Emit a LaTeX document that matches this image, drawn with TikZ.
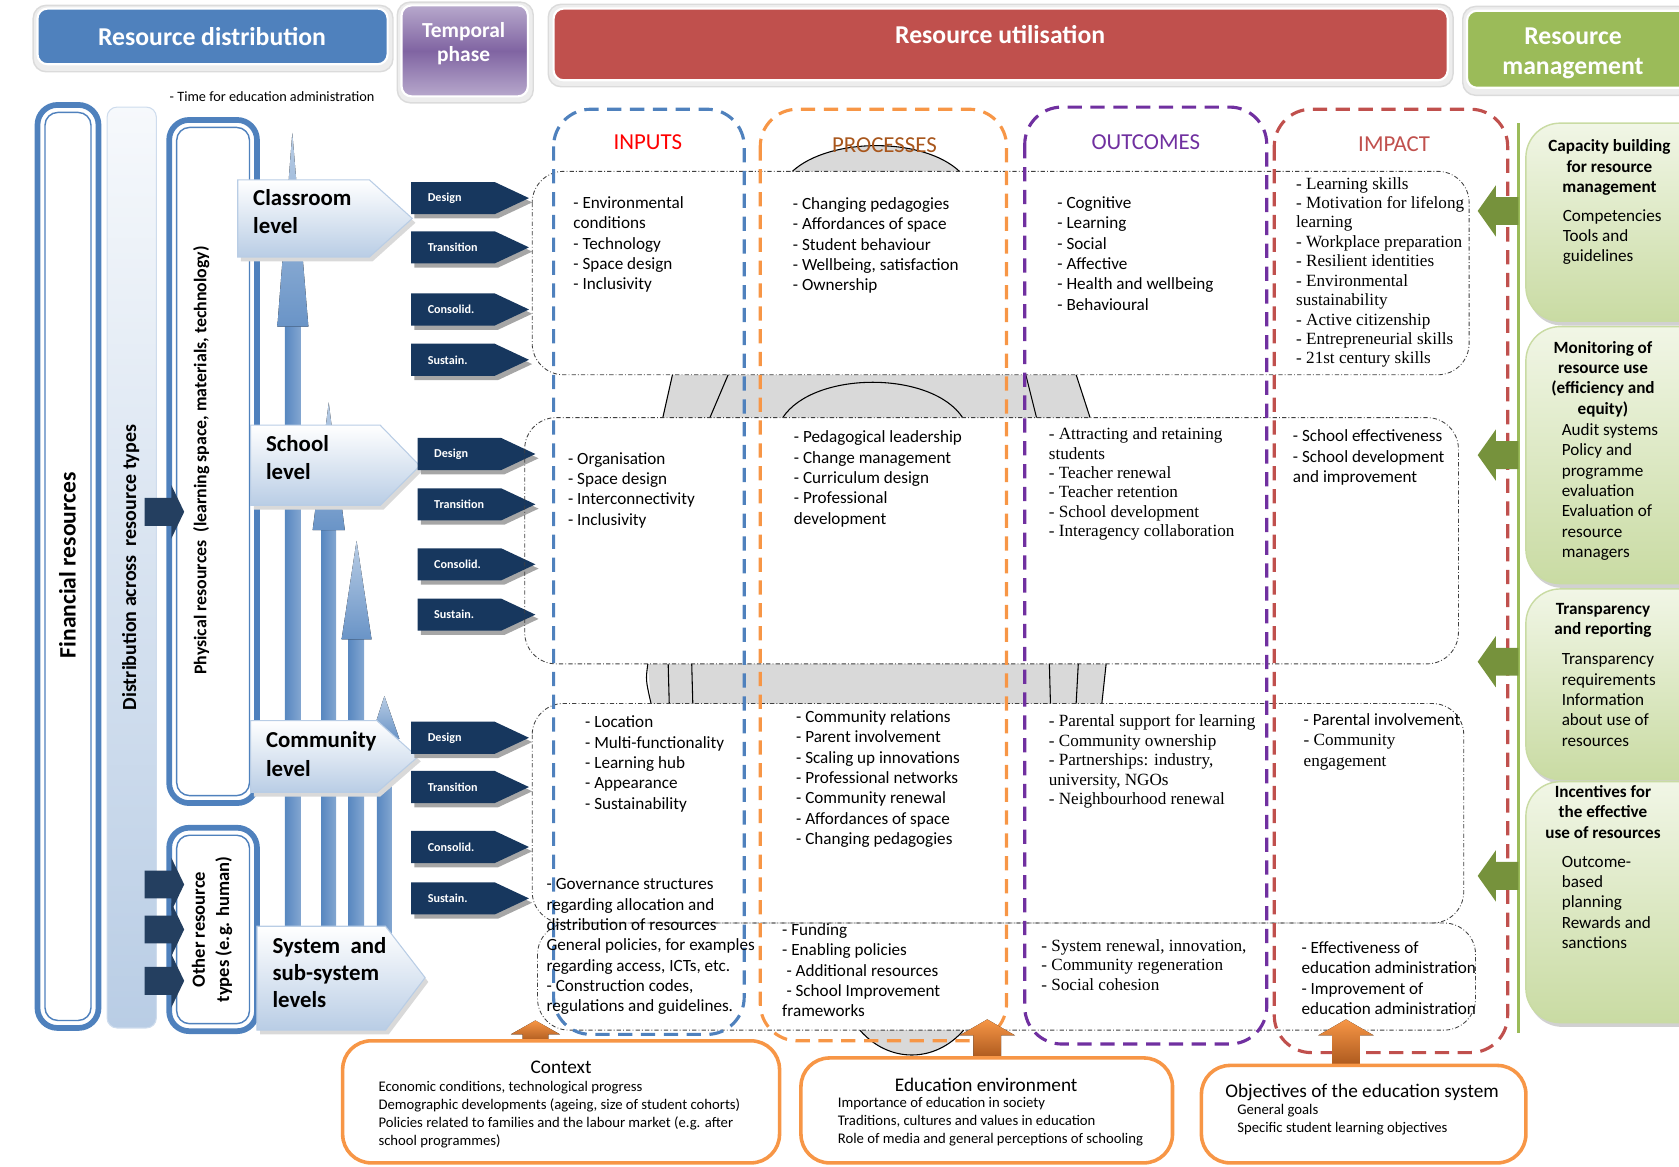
\documentclass[tikz,border=0pt]{standalone}
\usepackage{fontspec}
\setmainfont{Carlito}
\newfontfamily\timesface{Liberation Serif}
\usepackage{tikz}
\definecolor{rdblue}{HTML}{4F81BD}
\definecolor{lvlblue}{HTML}{B9CDE5}
\definecolor{tagnavy}{HTML}{17375E}
\definecolor{arrnavy}{HTML}{243F60}
\definecolor{tpurple}{HTML}{8064A2}
\definecolor{tlilac}{HTML}{B7A8CC}
\definecolor{rured}{HTML}{C0504D}
\definecolor{rmgreen}{HTML}{9BBB59}
\definecolor{gboxlight}{HTML}{F1F6E6}
\definecolor{gboxdark}{HTML}{C9DBA3}
\definecolor{garrow}{HTML}{76923C}
\definecolor{inorange}{HTML}{F79646}
\definecolor{ocpurple}{HTML}{7030A0}
\definecolor{procbrown}{HTML}{A8561C}
\definecolor{bandgray}{HTML}{D9D9D9}
\tikzset{every picture/.style={line width=0.75pt}}
\tikzset{
headframe/.style={draw=black!14, fill=black!7, line width=1pt, rounded corners=9},
headbox/.style={draw=white, line width=1.5pt, rounded corners=7},
headtxt/.style={text=white, font=\fontsize{18}{21}\selectfont\bfseries, align=center, inner sep=0pt},
resframe/.style={draw=rdblue, fill=white, line width=4pt, rounded corners=14},
resinner/.style={draw=rdblue, line width=1pt, rounded corners=9},
rottxt/.style={rotate=90, font=\fontsize{16.5}{17}\selectfont\bfseries, align=center, inner sep=0pt},
navyarrow/.style={fill=arrnavy, draw=none},
upshaft/.style={draw=none, left color=rdblue!95, right color=rdblue!70},
uphead/.style={draw=none, top color=rdblue!40, bottom color=rdblue!85},
lvlshadow/.style={fill=black!15, draw=none},
lvlbox/.style={draw=rdblue!40, top color=white, bottom color=lvlblue},
lvltxt/.style={anchor=north west, inner sep=0pt, align=left, font=\fontsize{16}{20}\selectfont\bfseries},
tagbox/.style={fill=tagnavy, draw=none},
tagshadow/.style={fill=black!35, draw=none},
tagtxt/.style={text=white, anchor=west, inner sep=0pt, font=\fontsize{8.5}{9}\selectfont\bfseries},
band/.style={fill=bandgray, draw=none},
rowbox/.style={draw=black!75, line width=0.6pt, dash pattern=on 3pt off 1.5pt on 0.6pt off 1.5pt, rounded corners=22},
colbox/.style={line width=2.2pt, dash pattern=on 10pt off 6pt, rounded corners=26},
coltitle/.style={font=\fontsize{16}{18}\selectfont, inner sep=0pt},
celltxt/.style={anchor=north west, inner sep=0pt, align=left, font=\fontsize{12}{14.25}\selectfont},
serifcell/.style={anchor=north west, inner sep=0pt, align=left, font=\timesface\fontsize{12}{13.6}\selectfont},
ctxbox/.style={draw=inorange, fill=white, line width=2.5pt, rounded corners=20},
ctxtitle/.style={font=\fontsize{13.5}{15}\selectfont, inner sep=0pt},
ctxtxt/.style={anchor=north west, inner sep=0pt, align=left, font=\fontsize{10.3}{12.75}\selectfont},
orarrow/.style={draw=none, top color=inorange, bottom color=procbrown},
greenshadow/.style={fill=black!18, draw=none, rounded corners=24},
greenbox/.style={draw=gboxdark, line width=1pt, top color=gboxlight, bottom color=gboxdark, rounded corners=24},
greenarrow/.style={fill=garrow, draw=none},
gtitle/.style={anchor=north, inner sep=0pt, align=center, font=\fontsize{12}{14.25}\selectfont\bfseries},
gtxt/.style={anchor=north west, inner sep=0pt, align=left, font=\fontsize{12}{14.25}\selectfont}}

\begin{document}
\begin{tikzpicture}[x=0.75pt,y=0.75pt,yscale=-1,xscale=1]
\useasboundingbox (0,0) rectangle (1568,1089);

%Shape: Rounded Rectangle -- Resource distribution
\draw[headframe] (31,5) rectangle (367,67);
\draw[headbox, fill=rdblue] (35,8) rectangle (362,60);
\node[headtxt] (rdist) at (198,34) {Resource distribution};
%Shape: Rounded Rectangle -- Temporal phase
\draw[headframe] (371,2) rectangle (498,96);
\draw[headbox, top color=tlilac, bottom color=tlilac, middle color=tpurple] (375,5) rectangle (493,90);
\node[headtxt, font=\fontsize{15}{17}\selectfont\bfseries] (tphase) at (433,41) {Temporal\\phase};
\node[anchor=west, inner sep=0pt, font=\fontsize{10}{11}\selectfont] (timeadm) at (158,90) {- Time for education administration};
%Shape: Rounded Rectangle -- Resource utilisation
\draw[headframe] (512,4) rectangle (1357,81);
\draw[headbox, fill=rured] (517,8) rectangle (1352,75);
\node[headtxt] (rutil) at (934,32) {Resource utilisation};
%Shape: Rounded Rectangle -- Resource management
\draw[headframe] (1366,6) rectangle (1600,89);
\draw[headbox, fill=rmgreen] (1370,10) rectangle (1598,82);
\node[headtxt] (rmgmt) at (1469,50) {Resource\\management};

%Shape: Double Rectangle -- financial resources
\draw[resframe] (35,98) rectangle (92,960);
\draw[resinner] (42,105) rectangle (85,953);
\node[rottxt] (finres) at (63,528) {Financial resources};
%Shape: Rectangle -- distribution column
\draw[draw=lvlblue!70, top color=rdblue!5, bottom color=lvlblue, rounded corners=7] (100,100) rectangle (146,960);
\node[rottxt, font=\fontsize{14}{15}\selectfont\bfseries] (distrib) at (122,530) {Distribution across \ resource types};
%Shape: Double Rectangle -- physical resources
\draw[resframe] (158,112) rectangle (240,750);
\draw[resinner] (165,119) rectangle (233,743);
\node[rottxt, font=\fontsize{12.5}{14}\selectfont\bfseries] (physres) at (188,430) {Physical resources \ (learning space, materials, technology)};
%Shape: Double Rectangle -- other resources
\draw[resframe] (158,773) rectangle (240,963);
\draw[resinner] (165,780) rectangle (233,956);
\node[rottxt, font=\fontsize{13}{17}\selectfont\bfseries] (othres) at (198,868) {Other resource\\types (e.g. human)};

%Shape: Block Arrows -- distribution to resource types
\fill[navyarrow] (135,465) -- (160,465) -- (160,453) -- (172,478) -- (160,503) -- (160,491) -- (135,491) -- cycle;
\fill[navyarrow] (135,813) -- (160,813) -- (160,801) -- (172,826) -- (160,851) -- (160,839) -- (135,839) -- cycle;
\fill[navyarrow] (135,855) -- (160,855) -- (160,843) -- (172,868) -- (160,893) -- (160,881) -- (135,881) -- cycle;
\fill[navyarrow] (135,903) -- (160,903) -- (160,891) -- (172,916) -- (160,941) -- (160,929) -- (135,929) -- cycle;

%Shape: Up Arrows -- between levels
\fill[upshaft] (266,305) rectangle (281,880);
\fill[uphead] (259,305) -- (273,124) -- (288,305) -- cycle;
\fill[upshaft] (300,495) rectangle (314,880);
\fill[uphead] (292,495) -- (307,376) -- (322,495) -- cycle;
\fill[upshaft] (325,597) rectangle (340,880);
\fill[uphead] (319,597) -- (333,505) -- (347,597) -- cycle;
\fill[upshaft] (352,690) rectangle (366,880);
\fill[uphead] (346,690) -- (359,650) -- (373,690) -- cycle;

%Shape: Pentagon -- levels
\fill[lvlshadow] (225,172) -- (348,172) -- (388,208) -- (348,244) -- (225,244) -- cycle;
\draw[lvlbox] (222,168) -- (345,168) -- (385,204) -- (345,240) -- (222,240) -- cycle;
\node[lvltxt] (classlvl) at (236,176) {Classroom\\level};
\fill[lvlshadow] (237,401) -- (358,401) -- (395,439) -- (358,476) -- (237,476) -- cycle;
\draw[lvlbox] (234,397) -- (355,397) -- (392,435) -- (355,472) -- (234,472) -- cycle;
\node[lvltxt] (schoollvl) at (248,406) {School\\level};
\fill[lvlshadow] (237,677) -- (355,677) -- (393,711) -- (355,744) -- (237,744) -- cycle;
\draw[lvlbox] (234,673) -- (352,673) -- (390,707) -- (352,740) -- (234,740) -- cycle;
\node[lvltxt] (commlvl) at (248,683) {Community\\level};
\fill[lvlshadow] (243,869) -- (363,869) -- (400,917) -- (363,966) -- (243,966) -- cycle;
\draw[lvlbox] (240,865) -- (360,865) -- (397,913) -- (360,962) -- (240,962) -- cycle;
\node[lvltxt, font=\fontsize{16}{19}\selectfont\bfseries] (syslvl) at (254,875) {System \ and\\sub-system\\levels};

%Shape: Pentagon -- classroom phases
\fill[tagshadow, shift={(3,4)}] (384,170) -- (462,170) -- (494,185) -- (462,200) -- (384,200) -- cycle;
\fill[tagbox] (384,170) -- (462,170) -- (494,185) -- (462,200) -- (384,200) -- cycle;
\node[tagtxt] (cdesign) at (399,185) {Design};
\fill[tagshadow, shift={(3,4)}] (384,216) -- (462,216) -- (494,231) -- (462,246) -- (384,246) -- cycle;
\fill[tagbox] (384,216) -- (462,216) -- (494,231) -- (462,246) -- (384,246) -- cycle;
\node[tagtxt] (ctrans) at (399,231) {Transition};
\fill[tagshadow, shift={(3,4)}] (384,274) -- (462,274) -- (494,289) -- (462,304) -- (384,304) -- cycle;
\fill[tagbox] (384,274) -- (462,274) -- (494,289) -- (462,304) -- (384,304) -- cycle;
\node[tagtxt] (cconsol) at (399,289) {Consolid.};
\fill[tagshadow, shift={(3,4)}] (384,321) -- (462,321) -- (494,336) -- (462,351) -- (384,351) -- cycle;
\fill[tagbox] (384,321) -- (462,321) -- (494,336) -- (462,351) -- (384,351) -- cycle;
\node[tagtxt] (csustain) at (399,336) {Sustain.};
%Shape: Pentagon -- school phases
\fill[tagshadow, shift={(3,4)}] (390,409) -- (468,409) -- (500,424) -- (468,439) -- (390,439) -- cycle;
\fill[tagbox] (390,409) -- (468,409) -- (500,424) -- (468,439) -- (390,439) -- cycle;
\node[tagtxt] (sdesign) at (405,424) {Design};
\fill[tagshadow, shift={(3,4)}] (390,456) -- (468,456) -- (500,471) -- (468,486) -- (390,486) -- cycle;
\fill[tagbox] (390,456) -- (468,456) -- (500,471) -- (468,486) -- (390,486) -- cycle;
\node[tagtxt] (strans) at (405,471) {Transition};
\fill[tagshadow, shift={(3,4)}] (390,512) -- (468,512) -- (500,527) -- (468,542) -- (390,542) -- cycle;
\fill[tagbox] (390,512) -- (468,512) -- (500,527) -- (468,542) -- (390,542) -- cycle;
\node[tagtxt] (sconsol) at (405,527) {Consolid.};
\fill[tagshadow, shift={(3,4)}] (390,559) -- (468,559) -- (500,574) -- (468,589) -- (390,589) -- cycle;
\fill[tagbox] (390,559) -- (468,559) -- (500,574) -- (468,589) -- (390,589) -- cycle;
\node[tagtxt] (ssustain) at (405,574) {Sustain.};
%Shape: Pentagon -- community phases
\fill[tagshadow, shift={(3,4)}] (384,674) -- (462,674) -- (494,689) -- (462,704) -- (384,704) -- cycle;
\fill[tagbox] (384,674) -- (462,674) -- (494,689) -- (462,704) -- (384,704) -- cycle;
\node[tagtxt] (mdesign) at (399,689) {Design};
\fill[tagshadow, shift={(3,4)}] (384,720) -- (462,720) -- (494,735) -- (462,750) -- (384,750) -- cycle;
\fill[tagbox] (384,720) -- (462,720) -- (494,735) -- (462,750) -- (384,750) -- cycle;
\node[tagtxt] (mtrans) at (399,735) {Transition};
\fill[tagshadow, shift={(3,4)}] (384,776) -- (462,776) -- (494,791) -- (462,806) -- (384,806) -- cycle;
\fill[tagbox] (384,776) -- (462,776) -- (494,791) -- (462,806) -- (384,806) -- cycle;
\node[tagtxt] (mconsol) at (399,791) {Consolid.};
\fill[tagshadow, shift={(3,4)}] (384,824) -- (462,824) -- (494,839) -- (462,854) -- (384,854) -- cycle;
\fill[tagbox] (384,824) -- (462,824) -- (494,839) -- (462,854) -- (384,854) -- cycle;
\node[tagtxt] (msustain) at (399,839) {Sustain.};

%Shape: Gray bands between the rows
\fill[band] (740,160) .. controls (775,128) and (862,128) .. (896,160) -- cycle;
\draw (740,160) .. controls (775,128) and (862,128) .. (896,160);
\fill[band] (628,350) -- (1005,350) -- (1018,390) -- (619,390) -- cycle;
\draw (628,350) -- (619,390) (680,350) -- (663,390) (958,350) -- (968,390) (1005,350) -- (1018,390);
\draw (731,390) .. controls (760,346) and (870,346) .. (899,390);
\fill[band] (605,620) -- (1033,620) -- (1029,657) -- (608,657) -- cycle;
\draw (605,620) .. controls (603,635) .. (608,657) (624,620) -- (625,657) (646,620) -- (647,657);
\draw (980,620) -- (981,657) (1007,620) -- (1005,657) (1033,620) -- (1029,657);
\fill[band] (803,962) .. controls (830,993) and (873,993) .. (900,962) -- cycle;
\draw (803,962) .. controls (830,993) and (873,993) .. (900,962);

%Shape: Rounded Rectangles -- rows
\draw[rowbox] (497,160) rectangle (1372,350);
\draw[rowbox] (490,390) rectangle (1362,620);
\draw[rowbox] (497,657) rectangle (1367,862);
\draw[rowbox] (502,862) rectangle (1378,962);

%Shape: Dashed Rounded Rectangles -- columns
\draw[colbox, draw=rdblue] (517,102) rectangle (695,966);
\draw[colbox, draw=inorange] (710,102) rectangle (940,972);
\draw[colbox, draw=ocpurple] (957,100) rectangle (1183,975);
\draw[colbox, draw=rured] (1190,102) rectangle (1408,983);

\node[coltitle, text=red] (intitle) at (605,133) {INPUTS};
\node[coltitle, text=procbrown] (prtitle) at (826,136) {PROCESSES};
\node[coltitle, text=ocpurple] (outitle) at (1070,133) {OUTCOMES};
\node[coltitle, text=rured] (imtitle) at (1302,135) {IMPACT};

%Text: classroom row
\node[celltxt] (inrow1) at (535,183) {- Environmental\\conditions\\- Technology\\- Space design\\- Inclusivity};
\node[celltxt] (prrow1) at (740,184) {- Changing pedagogies\\- Affordances of space\\- Student behaviour\\- Wellbeing, satisfaction\\- Ownership};
\node[celltxt] (ourow1) at (987,183) {- Cognitive\\- Learning\\- Social\\- Affective\\- Health and wellbeing\\- Behavioural};
\node[serifcell] (imrow1) at (1210,165) {- Learning skills\\- Motivation for lifelong\\learning\\- Workplace preparation\\- Resilient identities\\- Environmental\\sustainability\\- Active citizenship\\- Entrepreneurial skills\\- 21st century skills};
%Text: school row
\node[celltxt] (inrow2) at (530,422) {- Organisation\\- Space design\\- Interconnectivity\\- Inclusivity};
\node[celltxt] (prrow2) at (741,402) {- Pedagogical leadership\\- Change management\\- Curriculum design\\- Professional\\development};
\node[serifcell] (ourow2) at (979,399) {- Attracting and retaining\\students\\- Teacher renewal\\- Teacher retention\\- School development\\- Interagency collaboration};
\node[celltxt] (imrow2) at (1207,401) {- School effectiveness\\- School development\\and improvement};
%Text: community row
\node[celltxt] (inrow3) at (546,668) {- Location\\- Multi-functionality\\- Learning hub\\- Appearance\\- Sustainability};
\node[celltxt] (prrow3) at (743,663) {- Community relations\\- Parent involvement\\- Scaling up innovations\\- Professional networks\\- Community renewal\\- Affordances of space\\- Changing pedagogies};
\node[serifcell] (ourow3) at (979,667) {- Parental support for learning\\- Community ownership\\- Partnerships: industry,\\university, NGOs\\- Neighbourhood renewal};
\node[celltxt] (imrow3) at (1217,666) {- Parental involvement\\{\timesface\fontsize{12}{13.6}\selectfont - Community}\\{\timesface\fontsize{12}{13.6}\selectfont engagement}};
%Text: system row
\node[celltxt] (inrow4) at (510,820) {- Governance structures\\regarding allocation and\\distribution of resources\\General policies, for examples\\regarding access, ICTs, etc.\\- Construction codes,\\regulations and guidelines.};
\node[celltxt] (prrow4) at (730,862) {- Funding\\- Enabling policies\\\hspace*{3pt}- Additional resources\\\hspace*{3pt}- School Improvement\\frameworks};
\node[serifcell] (ourow4) at (972,877) {- System renewal, innovation,\\- Community regeneration\\- Social cohesion};
\node[celltxt] (imrow4) at (1215,879) {- Effectiveness of\\education administration\\- Improvement of\\education administration};

%Shape: Up Arrows -- context influences
\fill[orarrow] (500,953) -- (523,966) -- (512,966) -- (512,974) -- (488,974) -- (488,966) -- (477,966) -- cycle;
\fill[orarrow] (922,952) -- (948,967) -- (935,967) -- (935,990) -- (909,990) -- (909,967) -- (896,967) -- cycle;
\fill[orarrow] (1257,952) -- (1283,967) -- (1270,967) -- (1270,997) -- (1244,997) -- (1244,967) -- (1231,967) -- cycle;

%Shape: Rounded Rectangles -- context boxes
\draw[ctxbox] (320,972) rectangle (728,1086);
\node[ctxtitle] (ctxhead) at (524,997) {Context};
\node[ctxtxt] (ctxbody) at (353,1009) {Economic conditions, technological progress\\Demographic developments (ageing, size of student cohorts)\\Policies related to families and the labour market (e.g. after\\school programmes)};
\draw[ctxbox] (748,988) rectangle (1095,1086);
\node[ctxtitle] (envhead) at (921,1013) {Education environment};
\node[ctxtxt] (envbody) at (782,1024) {Importance of education in society\\Traditions, cultures and values in education\\Role of media and general perceptions of schooling};
\draw[ctxbox] (1122,995) rectangle (1425,1086);
\node[ctxtitle] (objhead) at (1272,1020) {Objectives of the education system};
\node[ctxtxt] (objbody) at (1155,1031) {General goals\\Specific student learning objectives};

%Shape: Line -- management border
\draw[rmgreen, line width=2.2pt] (1418,115) -- (1418,965);
%Shape: Left Arrows -- management
\fill[greenarrow] (1380,197) -- (1397,173) -- (1397,184) -- (1418,184) -- (1418,210) -- (1397,210) -- (1397,221) -- cycle;
\fill[greenarrow] (1380,425) -- (1397,401) -- (1397,412) -- (1418,412) -- (1418,438) -- (1397,438) -- (1397,449) -- cycle;
\fill[greenarrow] (1380,618) -- (1397,594) -- (1397,605) -- (1418,605) -- (1418,631) -- (1397,631) -- (1397,642) -- cycle;
\fill[greenarrow] (1380,818) -- (1397,794) -- (1397,805) -- (1418,805) -- (1418,831) -- (1397,831) -- (1397,842) -- cycle;

%Shape: Rounded Rectangles -- management boxes
\fill[greenshadow] (1427,119) rectangle (1602,304);
\draw[greenbox] (1425,115) rectangle (1600,300);
\node[gtitle] (capbuild) at (1503,130) {Capacity building\\for resource\\management};
\node[gtxt] (captxt) at (1459,195) {Competencies\\Tools and\\guidelines};
\fill[greenshadow] (1427,309) rectangle (1602,549);
\draw[greenbox] (1425,305) rectangle (1600,545);
\node[gtitle] (monitor) at (1497,318) {Monitoring of\\resource use\\(efficiency and\\equity)};
\node[gtxt] (montxt) at (1458,395) {Audit systems\\Policy and\\programme\\evaluation\\Evaluation of\\resource\\managers};
\fill[greenshadow] (1427,554) rectangle (1602,732);
\draw[greenbox] (1425,550) rectangle (1600,728);
\node[gtitle] (transp) at (1497,563) {Transparency\\and reporting};
\node[gtxt] (transtxt) at (1458,610) {Transparency\\requirements\\Information\\about use of\\resources};
\fill[greenshadow] (1427,734) rectangle (1602,959);
\draw[greenbox] (1425,730) rectangle (1600,955);
\node[gtitle] (incent) at (1497,733) {Incentives for\\the effective\\use of resources};
\node[gtxt] (inctxt) at (1458,799) {Outcome-\\based\\planning\\Rewards and\\sanctions};

\end{tikzpicture}
\end{document}
